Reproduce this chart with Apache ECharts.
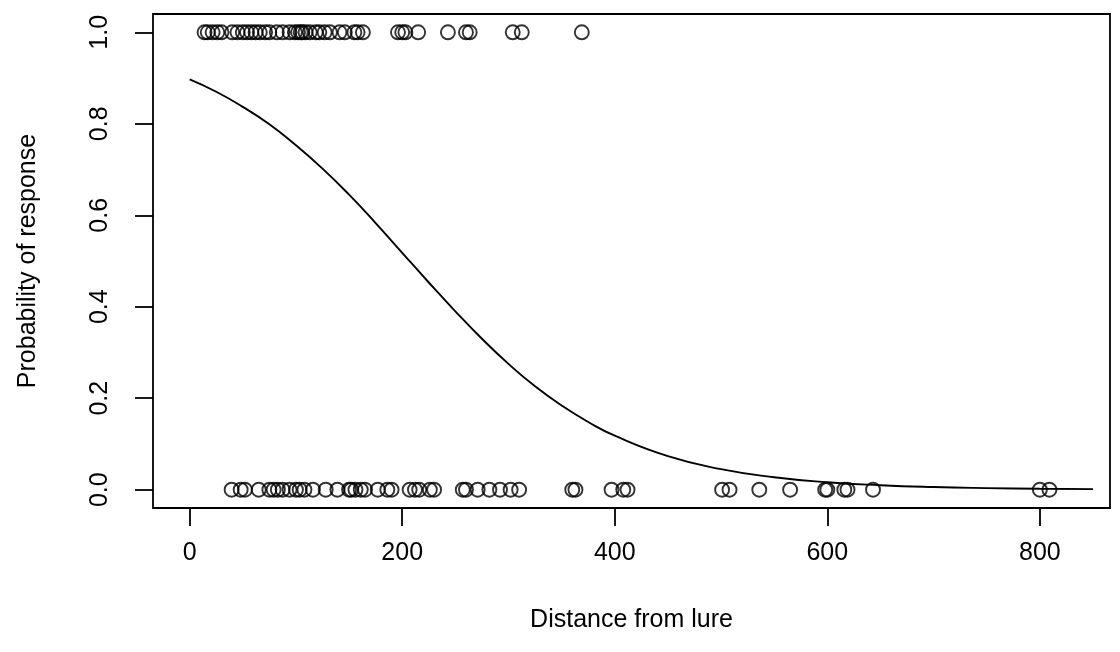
<!DOCTYPE html>
<html>
<head>
<meta charset="utf-8">
<script src="https://cdn.jsdelivr.net/npm/echarts@6/dist/echarts.min.js"></script>
<style>
html,body{margin:0;padding:0;background:#fff;}
#chart{width:1120px;height:652px;}
</style>
</head>
<body>
<div id="chart"></div>
<script>
// Distances of observations with response = 1
var distOne = [14, 17, 21.6, 26, 30, 40, 45, 50, 54, 58, 62, 66, 71, 75, 82, 87.5, 94, 99, 102, 104.5, 106, 109, 113, 118.6, 122, 127, 132, 141, 146, 155, 158, 163, 196, 200, 203, 215, 243, 260, 263.5, 304, 312.5, 369];
// Distances of observations with response = 0
var distZero = [39.5, 48, 52, 65, 75, 79, 83, 87.5, 94, 100, 103.5, 108, 116, 128, 139, 150, 152, 156, 161, 165, 177, 186, 190, 207, 212, 216, 226, 230, 257, 260, 271, 282, 292, 302, 310, 360, 363, 397, 408, 412, 501, 508, 536, 565, 598, 600, 616, 619, 643, 800, 809];
// Fitted curve
var curveX = [0, 25, 50, 75, 100, 125, 150, 175, 200, 225, 250, 275, 300, 325, 350, 375, 400, 450, 500, 550, 600, 650, 700, 750, 800, 850];
var curveP = [0.897, 0.870, 0.837, 0.799, 0.753, 0.702, 0.645, 0.583, 0.518, 0.453, 0.390, 0.330, 0.275, 0.226, 0.184, 0.148, 0.118, 0.0735, 0.045, 0.0272, 0.0163, 0.0098, 0.0058, 0.0035, 0.0021, 0.0012];
var xTicks = [0, 200, 400, 600, 800];
var yTicks = [0, 0.2, 0.4, 0.6, 0.8, 1.0];
var xTitle = 'Distance from lure';
var yTitle = 'Probability of response';

var pts = [];
distOne.forEach(function(d){ pts.push([d, 1]); });
distZero.forEach(function(d){ pts.push([d, 0]); });
var curve = curveX.map(function(x, i){ return [x, curveP[i]]; });

var font = 'Liberation Sans, Arial, Helvetica, sans-serif';
var chart = echarts.init(document.getElementById('chart'), null, {renderer: 'canvas'});
chart.setOption({
  animation: false,
  backgroundColor: '#fff',
  grid: {left: 153, right: 10, top: 14, bottom: 144, show: true, borderColor: '#000', borderWidth: 1.8, backgroundColor: 'transparent'},
  xAxis: {
    type: 'value', min: -34.5, max: 866,
    name: xTitle, nameLocation: 'middle', nameGap: 100,
    nameTextStyle: {fontFamily: font, fontSize: 25, color: '#000'},
    axisLine: {show: false, onZero: false},
    splitLine: {show: false},
    axisTick: {show: true, inside: false, length: 18, customValues: xTicks, lineStyle: {color: '#000', width: 1.8}},
    axisLabel: {customValues: xTicks, margin: 33, fontFamily: font, fontSize: 25, color: '#000'}
  },
  yAxis: {
    type: 'value', min: -0.04, max: 1.04,
    name: yTitle, nameLocation: 'middle', nameGap: 112, nameRotate: 90,
    nameTextStyle: {fontFamily: font, fontSize: 25, color: '#000'},
    axisLine: {show: false, onZero: false},
    splitLine: {show: false},
    axisTick: {show: true, inside: false, length: 18, customValues: yTicks, lineStyle: {color: '#000', width: 1.8}},
    axisLabel: {customValues: yTicks, rotate: 90, margin: 40, fontFamily: font, fontSize: 25, color: '#000',
      formatter: function(v){ return v.toFixed(1); }}
  },
  series: [
    {type: 'scatter', data: pts, symbol: 'circle', symbolSize: 14,
     itemStyle: {color: 'transparent', borderColor: '#000', borderWidth: 1.9}},
    {type: 'line', data: curve, smooth: true, showSymbol: false, symbol: 'none',
     lineStyle: {color: '#000', width: 1.9}}
  ]
});
</script>
</body>
</html>
